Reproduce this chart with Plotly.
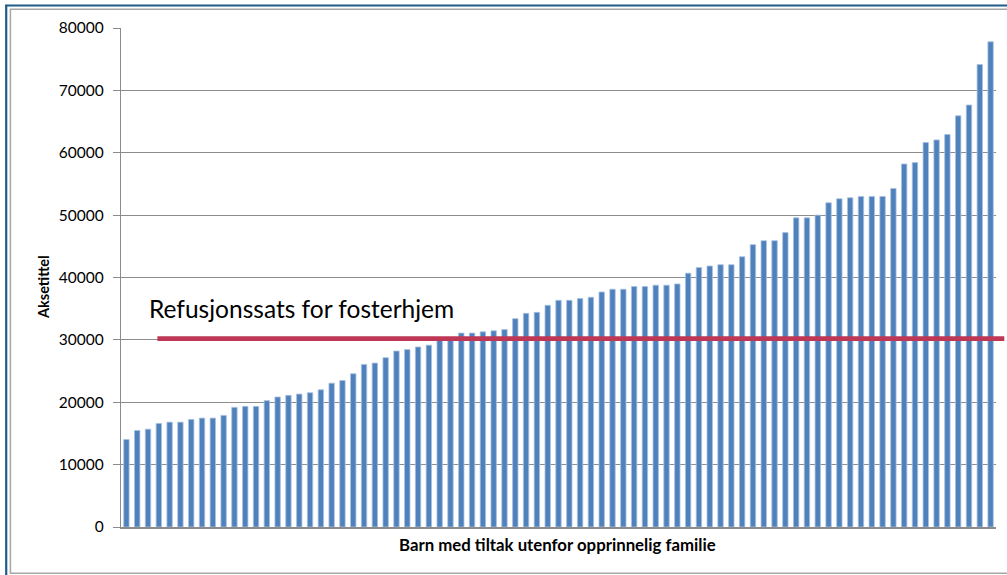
import plotly.graph_objects as go

# Cost per child placed outside the original family, sorted ascending
barn_nr = list(range(1, 82))
kostnad = [
    14030, 15470, 15680, 16600, 16810, 16810, 17250, 17460, 17460, 17890,
    19180, 19340, 19340, 20260, 20840, 21110, 21310, 21530, 22000, 23060,
    23490, 24570, 26070, 26280, 27150, 28210, 28440, 28860, 29150, 29900,
    30000, 31090, 31090, 31290, 31450, 31670, 33400, 34250, 34410, 35540,
    36340, 36340, 36620, 36830, 37680, 38120, 38120, 38550, 38550, 38760,
    38760, 38970, 40690, 41600, 41840, 42050, 42050, 43330, 45270, 45900,
    45900, 47200, 49560, 49560, 50000, 51980, 52620, 52790, 53000, 53000,
    53000, 54280, 58200, 58420, 61640, 62060, 62930, 65930, 67650, 74140,
    77790,
]
y_ticks = [0, 10000, 20000, 30000, 40000, 50000, 60000, 70000, 80000]
refusjonssats = 30200
refusjon_tekst = "Refusjonssats for fosterhjem"
x_tittel = "Barn med tiltak utenfor opprinnelig familie"
y_tittel = "Aksetittel"

W, H = 1007, 575
M_L, M_R, M_T, M_B = 120.6, 11.3, 28.3, 47.5
PW = W - M_L - M_R
PH = H - M_T - M_B


def px(x):
    return (x - M_L) / PW


def py(y):
    return (H - M_B - y) / PH


FONT = "Lato, 'Open Sans', sans-serif"
GRID = "#8C8C8C"

fig = go.Figure(
    go.Bar(
        x=barn_nr,
        y=kostnad,
        width=0.5,
        marker=dict(color="#4F81BD", line=dict(color="#A9C2E0", width=0.8)),
        hoverinfo="y",
    )
)

fig.update_layout(
    width=W,
    height=H,
    margin=dict(l=M_L, r=M_R, t=M_T, b=M_B, pad=0),
    paper_bgcolor="white",
    plot_bgcolor="white",
    showlegend=False,
    font=dict(family=FONT, size=15, color="#000000"),
    xaxis=dict(
        range=[0.5, len(barn_nr) + 0.5],
        showticklabels=False,
        ticks="",
        showgrid=False,
        zeroline=False,
        showline=True,
        linecolor=GRID,
        linewidth=1.5,
        fixedrange=True,
    ),
    yaxis=dict(
        range=[0, 80000],
        tickvals=y_ticks,
        ticktext=[str(v) for v in y_ticks],
        ticks="outside",
        ticklen=7,
        tickcolor=GRID,
        tickwidth=1.2,
        ticklabelstandoff=6,
        showgrid=True,
        gridcolor=GRID,
        gridwidth=1.2,
        zeroline=False,
        showline=True,
        linecolor=GRID,
        linewidth=1.2,
        tickfont=dict(family=FONT, size=15.5, color="#000000"),
        fixedrange=True,
    ),
    shapes=[
        # refund rate line
        dict(
            type="line", xref="paper", yref="y",
            x0=px(157), x1=px(1004), y0=refusjonssats, y1=refusjonssats,
            line=dict(color="#BE3755", width=4.8), layer="above",
        ),
        # chart-area frame
        dict(
            type="rect", xref="paper", yref="paper",
            x0=px(10), x1=px(1012), y0=py(9.5), y1=py(573.8),
            line=dict(color="#A6A6A6", width=1.5), layer="below",
        ),
        dict(
            type="line", xref="paper", yref="paper",
            x0=px(5.8), x1=px(5.8), y0=py(5), y1=py(580),
            line=dict(color="#1F5C87", width=2.2),
        ),
        dict(
            type="line", xref="paper", yref="paper",
            x0=px(5), x1=px(1010), y0=py(5.8), y1=py(5.8),
            line=dict(color="#1F5C87", width=2.2),
        ),
    ],
    annotations=[
        dict(
            text=refusjon_tekst, xref="paper", yref="paper",
            x=px(147), y=py(309), xanchor="left", yanchor="middle",
            showarrow=False, font=dict(family=FONT, size=24.5, color="#000000"),
        ),
        dict(
            text=f"<b>{x_tittel}</b>", xref="paper", yref="paper",
            x=px(557), y=py(545), xanchor="center", yanchor="middle",
            showarrow=False, font=dict(family=FONT, size=16.8, color="#000000"),
        ),
        dict(
            text=f"<b>{y_tittel}</b>", xref="paper", yref="paper",
            x=px(43), y=py(287), xanchor="center", yanchor="middle",
            textangle=-90, showarrow=False,
            font=dict(family=FONT, size=14.5, color="#000000"),
        ),
    ],
)

fig.write_html("out.html", config={"displayModeBar": False})
